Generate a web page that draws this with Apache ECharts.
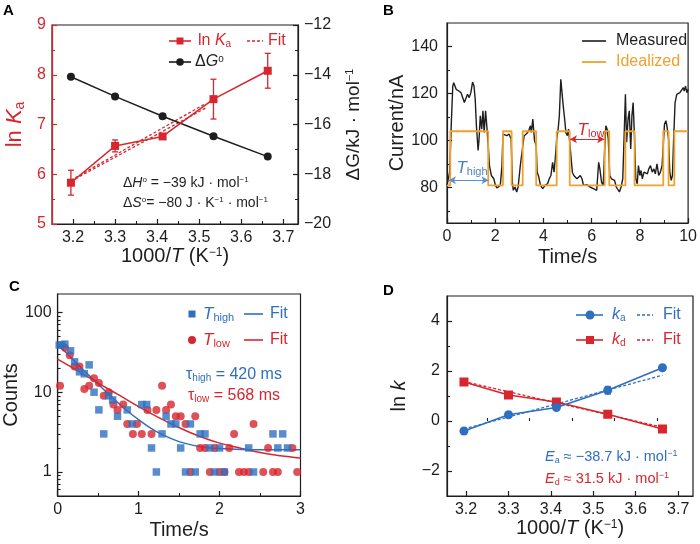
<!DOCTYPE html>
<html><head><meta charset="utf-8">
<script src="https://cdn.jsdelivr.net/npm/echarts@6/dist/echarts.min.js"></script>
<style>html,body{margin:0;padding:0;background:#fff}#c{width:700px;height:544px}</style>
</head><body><div id="c"></div>
<script>
// ---------- Panel A data ----------
const invT = [3.195, 3.300, 3.413, 3.534, 3.663];
const lnKa = [5.83, 6.57, 6.76, 7.51, 8.08];
const lnKaErr = [0.25, 0.12, 0.05, 0.40, 0.35];
const dG = [-14.08, -14.87, -15.67, -16.47, -17.29];
const fitAX = [3.195, 3.515];
const fitAY1 = [5.88, 7.42];
const fitAY2 = [5.86, 7.33];
const aXTicks = [3.2, 3.3, 3.4, 3.5, 3.6, 3.7];
const aXMinor = [3.25, 3.35, 3.45, 3.55, 3.65];
// ---------- Panel B data ----------
const measT = [0.00,0.11,0.18,0.24,0.28,0.38,0.49,0.58,0.65,0.72,0.79,0.85,0.92,0.99,1.06,1.12,1.17,1.22,1.29,1.33,1.38,1.44,1.49,1.54,1.60,1.65,1.71,1.76,1.84,1.94,2.01,2.07,2.14,2.21,2.28,2.32,2.38,2.48,2.57,2.66,2.71,2.75,2.82,2.89,2.95,3.04,3.12,3.20,3.29,3.39,3.46,3.50,3.56,3.63,3.70,3.74,3.79,3.88,3.97,4.07,4.17,4.24,4.31,4.38,4.44,4.49,4.55,4.61,4.66,4.72,4.77,4.82,4.88,4.93,4.99,5.04,5.09,5.15,5.20,5.26,5.33,5.39,5.46,5.53,5.60,5.66,5.80,5.93,6.07,6.21,6.29,6.34,6.41,6.48,6.54,6.59,6.64,6.69,6.75,6.82,6.88,6.95,7.02,7.09,7.15,7.22,7.29,7.36,7.40,7.45,7.51,7.56,7.62,7.67,7.72,7.78,7.83,7.89,7.94,8.00,8.05,8.10,8.17,8.24,8.31,8.37,8.44,8.51,8.58,8.64,8.71,8.78,8.85,8.92,8.97,9.02,9.08,9.13,9.19,9.24,9.30,9.35,9.40,9.46,9.53,9.59,9.66,9.73,9.80,9.84,9.89,9.95,10.0];
const measI = [81.0,86.6,107.7,123.2,124.6,121.8,121.1,120.4,118.3,116.2,116.9,119.7,118.3,120.4,124.9,123.2,117.6,106.3,95.8,100.7,110.6,104.9,112.7,103.5,112.7,106.3,97.9,89.4,85.2,83.8,81.0,79.9,79.6,81.0,89.4,102.8,102.1,102.1,102.8,100.7,82.4,78.9,80.3,78.2,80.3,89.4,95.8,102.1,102.8,104.2,106.3,103.5,109.2,100.0,97.9,86.6,85.2,81.0,79.6,81.0,81.7,83.8,85.2,90.8,86.6,92.3,100.7,104.9,110.6,126.1,120.4,114.8,109.2,103.5,102.1,104.9,99.3,92.3,86.6,85.2,85.9,83.8,83.1,85.2,83.8,81.0,81.3,80.3,79.6,78.9,90.8,88.0,82.4,81.0,96.5,106.3,104.9,100.7,85.2,83.8,83.8,83.1,80.3,81.0,78.2,80.3,83.8,106.3,119.7,99.3,109.2,112.7,96.5,110.6,116.2,100.7,83.8,81.7,89.4,85.2,87.3,83.8,86.6,87.3,85.9,88.0,89.4,86.6,88.0,85.9,90.1,85.2,86.6,89.4,97.9,107.0,108.5,105.6,100.7,86.6,83.1,85.2,100.7,116.2,119.7,119.0,120.4,119.7,122.5,121.1,123.2,120.4,121.8];
const idealT = [0,0.135,1.71,2.32,2.68,3.14,3.70,4.55,5.09,6.54,6.73,7.40,7.78,8.97,9.19,9.43,10];
const idealI = [81,104,81,104,81,104,81,104,81,104,81,104,81,104,81,104,104];
const arrowHigh = [0.08, 1.72, 83.2];
const arrowLow = [5.10, 6.52, 100.6];
const bYLabels = [80, 100, 120, 140];
const bYMinor = [70, 90, 110, 130];
// ---------- Panel C data ----------
const highT = [0.02,0.05,0.09,0.16,0.21,0.27,0.33,0.39,0.45,0.51,0.57,0.63,0.68,0.74,0.86,0.92,1.04,1.10,1.16,1.22,1.29,1.34,1.40,1.46,1.52,1.58,1.64,1.70,1.76,1.82,1.88,1.94,2.00,2.06,2.36,2.42,2.66,2.72,2.78,2.84];
const highN = [39,39,40,33,24,18,17,22,10,6,3,9,8,5,6,4,7,7,2,1,3,5,4,4,2,1,4,1,3,3,2,1,2,1,2,1,3,2,3,2];
const lowT = [0.03,0.09,0.15,0.21,0.27,0.33,0.39,0.45,0.51,0.57,0.63,0.69,0.74,0.81,0.86,0.93,0.98,1.04,1.11,1.16,1.22,1.29,1.34,1.40,1.46,1.52,1.58,1.64,1.70,1.76,1.82,1.88,1.94,2.00,2.06,2.12,2.18,2.24,2.30,2.36,2.42,2.54,2.60,2.66,2.72,2.90,2.96];
const lowN = [12,36,29,21,21,11,12,15,13,9,10,7,6,7,4,3,4,3,6,3,6,12,6,7,5,5,4,1,5,2,2,1,2,1,1,2,3,1,1,1,4,1,2,1,1,2,1];
const fitHighT = [0,0.125,0.25,0.375,0.5,0.625,0.75,0.875,1,1.125,1.25,1.5,1.75,2,2.5,3];
const fitHighN = [40,29.9,22.3,16.7,12.6,9.55,7.33,5.69,4.52,3.67,3.09,2.40,2.09,1.97,1.90,1.90];
const fitLowT = [0,0.25,0.5,0.75,1,1.25,1.5,1.75,2,2.25,2.5,2.75,3];
const fitLowN = [26,18.5,13,9.3,6.6,4.8,3.6,2.8,2.3,2.0,1.75,1.6,1.5];
const cYLabels = [1, 10, 100];
const cYMinor = [0.6,0.7,0.8,0.9,2,3,4,5,6,7,8,9,20,30,40,50,60,70,80,90];
// ---------- Panel D data ----------
const lnKa_d = [-0.40, 0.25, 0.54, 1.23, 2.13];
const lnKaErr_d = [0.05, 0.05, 0.05, 0.15, 0.08];
const lnKd = [1.56, 1.04, 0.76, 0.27, -0.32];
const lnKdErr = [0.05, 0.10, 0.05, 0.05, 0.05];
const fitDX = [3.195, 3.663];
const fitKaY = [-0.32, 1.83];
const fitKdY = [1.58, -0.25];
const dYLabels = [-2, 0, 2, 4];
const dYMinor = [-1, 1, 3];

const RED = '#d7262e', BLUE = '#2f6fbf', ORANGE = '#f0a02c', BLK = '#1e1e1e';
const FONT = 'Liberation Sans';
const minus = v => String(v).replace('-', '\u2212');
const pair = (xs, ys) => xs.map((x, i) => [x, ys[i]]);

function richSet(color, size) {
  return {
    i: {fontStyle: 'italic', fontSize: size, fontFamily: FONT, color},
    sub: {fontSize: Math.round(size * 0.62), fontFamily: FONT, color, verticalAlign: 'bottom', padding: [Math.round(size*0.45), 0, 0, 0]},
    sup: {fontSize: Math.round(size * 0.6), fontFamily: FONT, color, verticalAlign: 'top', padding: [0, 0, Math.round(size*0.4), 0]},
    n: {fontSize: size, fontFamily: FONT, color}
  };
}
function nameStyle(color, size) {
  return {color, fontSize: size, fontFamily: FONT, rich: richSet(color, size)};
}
function baseX(grid, min, max, color) {
  return {type: 'value', gridIndex: grid, min, max, position: 'bottom',
    axisLine: {show: true, onZero: false, lineStyle: {color: color || BLK, width: 1.2}},
    axisTick: {show: true, inside: true, length: 5, lineStyle: {color: color || BLK, width: 1.2}},
    axisLabel: {color: BLK, fontSize: 16, fontFamily: FONT, margin: 6},
    splitLine: {show: false}, minorSplitLine: {show: false}};
}
function baseY(grid, min, max, color, pos) {
  return {type: 'value', gridIndex: grid, min, max, position: pos || 'left',
    axisLine: {show: true, onZero: false, lineStyle: {color: color || BLK, width: 1.2}},
    axisTick: {show: true, inside: true, length: 5, lineStyle: {color: color || BLK, width: 1.2}},
    axisLabel: {color: color || BLK, fontSize: 16, fontFamily: FONT, margin: 6, formatter: minus},
    splitLine: {show: false}, minorSplitLine: {show: false}};
}
function minorAxis(base, vals) {
  return Object.assign(base, {
    axisLine: {show: false}, axisLabel: {show: false},
    axisTick: {show: true, inside: true, length: 3, customValues: vals, lineStyle: {color: BLK, width: 1.1}}
  });
}
function errBars(xi, yi, xs, ys, es, color, cap) {
  return {type: 'custom', xAxisIndex: xi, yAxisIndex: yi, z: 3, silent: true,
    data: xs.map((x, i) => [x, ys[i] - es[i], ys[i] + es[i]]),
    encode: {x: 0, y: [1, 2]},
    renderItem: (p, api) => {
      const a = api.coord([api.value(0), api.value(1)]);
      const b = api.coord([api.value(0), api.value(2)]);
      const s = {stroke: color, lineWidth: 1.3};
      return {type: 'group', children: [
        {type: 'line', shape: {x1: a[0], y1: a[1], x2: b[0], y2: b[1]}, style: s},
        {type: 'line', shape: {x1: a[0] - cap, y1: a[1], x2: a[0] + cap, y2: a[1]}, style: s},
        {type: 'line', shape: {x1: b[0] - cap, y1: b[1], x2: b[0] + cap, y2: b[1]}, style: s}]};
    }};
}
// graphic helpers (legend keys / annotations)
function gText(x, y, text, color, size, opts) {
  opts = opts || {};
  return {type: 'text', x, y, z: 100, style: Object.assign({text, fill: color, fontSize: size, fontFamily: FONT,
    align: opts.align || 'left', verticalAlign: 'middle', rich: richSet(color, size)}, opts.style || {})};
}
function gLine(x1, x2, y, color, dash, w) {
  return {type: 'line', z: 100, shape: {x1, y1: y, x2, y2: y}, style: {stroke: color, lineWidth: w || 1.6, lineDash: dash || null}};
}
function gSq(x, y, s, color) {
  return {type: 'rect', z: 101, shape: {x: x - s / 2, y: y - s / 2, width: s, height: s}, style: {fill: color}};
}
function gCirc(x, y, r, color) {
  return {type: 'circle', z: 101, shape: {cx: x, cy: y, r}, style: {fill: color}};
}

const option = {
  animation: false,
  backgroundColor: '#fff',
  grid: [
    {left: 52, top: 25, width: 246, height: 199, show: true, borderColor: BLK, borderWidth: 1.2, backgroundColor: 'transparent'},
    {left: 447, top: 23, width: 246, height: 200, show: true, borderColor: BLK, borderWidth: 1.2, backgroundColor: 'transparent'},
    {left: 55.5, top: 294, width: 245, height: 202, show: true, borderColor: BLK, borderWidth: 1.2, backgroundColor: 'transparent'},
    {left: 447, top: 296, width: 246, height: 200, show: true, borderColor: BLK, borderWidth: 1.2, backgroundColor: 'transparent'}
  ],
  xAxis: [
    Object.assign(baseX(0, 3.15, 3.735), {
      axisLabel: {color: BLK, fontSize: 16, fontFamily: FONT, margin: 6, customValues: aXTicks, formatter: v => v.toFixed(1)},
      axisTick: {show: true, inside: true, length: 5, customValues: aXTicks, lineStyle: {color: BLK, width: 1.2}},
      name: '1000/{i|T} (K{sup|\u22121})', nameLocation: 'middle', nameGap: 19, nameTextStyle: nameStyle(BLK, 20)}),
    minorAxis(baseX(0, 3.15, 3.735), aXMinor),
    Object.assign(baseX(1, 0, 10), {interval: 2, minorTick: {show: true, splitNumber: 2, length: 3, lineStyle: {color: BLK}},
      name: 'Time/s', nameLocation: 'middle', nameGap: 24, nameTextStyle: nameStyle(BLK, 20)}),
    Object.assign(baseX(2, 0, 3), {interval: 1, minorTick: {show: true, splitNumber: 2, length: 3, lineStyle: {color: BLK}},
      name: 'Time/s', nameLocation: 'middle', nameGap: 24, nameTextStyle: nameStyle(BLK, 20)}),
    Object.assign(baseX(3, 3.155, 3.735), {
      axisLabel: {color: BLK, fontSize: 16, fontFamily: FONT, margin: 6, customValues: aXTicks, formatter: v => v.toFixed(1)},
      axisTick: {show: true, inside: true, length: 5, customValues: aXTicks, lineStyle: {color: BLK, width: 1.2}},
      name: '1000/{i|T} (K{sup|\u22121})', nameLocation: 'middle', nameGap: 19, nameTextStyle: nameStyle(BLK, 20)}),
    minorAxis(baseX(3, 3.155, 3.735), aXMinor)
  ],
  yAxis: [
    Object.assign(baseY(0, 5, 9, RED), {interval: 1, minorTick: {show: true, splitNumber: 2, length: 3, lineStyle: {color: RED}},
      name: 'ln {i|K}{sub|a}', nameLocation: 'middle', nameGap: 25, nameTextStyle: nameStyle(RED, 22)}),
    Object.assign(baseY(0, -20, -12, BLK, 'right'), {interval: 2, minorTick: {show: true, splitNumber: 2, length: 3, lineStyle: {color: BLK}},
      name: '\u0394G/kJ \u00b7 mol{sup|\u22121}', nameLocation: 'middle', nameGap: 46, nameTextStyle: nameStyle(BLK, 19)}),
    Object.assign(baseY(1, 65, 150), {
      axisLabel: {color: BLK, fontSize: 16, fontFamily: FONT, margin: 9, customValues: bYLabels},
      axisTick: {show: true, inside: true, length: 5, customValues: bYLabels, lineStyle: {color: BLK, width: 1.2}},
      name: 'Current/nA', nameLocation: 'middle', nameGap: 36, nameTextStyle: nameStyle(BLK, 20)}),
    minorAxis(baseY(1, 65, 150), bYMinor),
    Object.assign(baseY(2, 0.5, 170), {type: 'log', logBase: 10,
      axisLabel: {color: BLK, fontSize: 16, fontFamily: FONT, margin: 6, customValues: cYLabels},
      axisTick: {show: true, inside: true, length: 5, customValues: cYLabels, lineStyle: {color: BLK, width: 1.2}},
      name: 'Counts', nameLocation: 'middle', nameGap: 24, nameTextStyle: nameStyle(BLK, 20)}),
    Object.assign(minorAxis(baseY(2, 0.5, 170), cYMinor), {type: 'log', logBase: 10}),
    Object.assign(baseY(3, -3, 5), {
      axisLabel: {color: BLK, fontSize: 16, fontFamily: FONT, margin: 7, customValues: dYLabels, formatter: minus},
      axisTick: {show: true, inside: true, length: 5, customValues: dYLabels, lineStyle: {color: BLK, width: 1.2}},
      name: 'ln {i|k}', nameLocation: 'middle', nameGap: 38, nameTextStyle: nameStyle(BLK, 20)}),
    minorAxis(baseY(3, -3, 5), dYMinor)
  ],
  series: [
    // ---- A ----
    {type: 'line', xAxisIndex: 0, yAxisIndex: 0, data: pair(fitAX, fitAY1), symbol: 'none', lineStyle: {color: RED, width: 1.3, type: [3, 2]}, z: 2},
    {type: 'line', xAxisIndex: 0, yAxisIndex: 0, data: pair(fitAX, fitAY2), symbol: 'none', lineStyle: {color: RED, width: 1.3, type: [3, 2]}, z: 2},
    {type: 'line', xAxisIndex: 0, yAxisIndex: 1, data: pair(invT, dG), symbol: 'circle', symbolSize: 8,
      itemStyle: {color: BLK}, lineStyle: {color: BLK, width: 1.5}, z: 3},
    errBars(0, 0, invT, lnKa, lnKaErr, RED, 3),
    {type: 'line', xAxisIndex: 0, yAxisIndex: 0, data: pair(invT, lnKa), symbol: 'rect', symbolSize: 8,
      itemStyle: {color: RED}, lineStyle: {color: RED, width: 1.5}, z: 4},
    // ---- B ----
    {type: 'line', xAxisIndex: 2, yAxisIndex: 2, data: pair(measT, measI), symbol: 'none',
      lineStyle: {color: BLK, width: 1.4}, z: 2},
    {type: 'line', xAxisIndex: 2, yAxisIndex: 2, data: pair(idealT, idealI), symbol: 'none', step: 'end',
      lineStyle: {color: ORANGE, width: 1.8}, z: 3,
      markLine: {silent: true, symbol: ['arrow', 'arrow'], symbolSize: [6, 7], label: {show: false},
        data: [
          [{coord: [arrowHigh[0], arrowHigh[2]], lineStyle: {color: '#5b8fd0', width: 1, type: 'solid'}, itemStyle: {color: '#5b8fd0'}},
           {coord: [arrowHigh[1], arrowHigh[2]]}],
          [{coord: [arrowLow[0], arrowLow[2]], lineStyle: {color: RED, width: 1, type: 'solid'}, itemStyle: {color: RED}},
           {coord: [arrowLow[1], arrowLow[2]]}]
        ]}},
    // ---- C ----
    {type: 'line', xAxisIndex: 3, yAxisIndex: 4, data: pair(fitLowT, fitLowN), symbol: 'none', smooth: 0.4,
      lineStyle: {color: RED, width: 1.5}, z: 2},
    {type: 'line', xAxisIndex: 3, yAxisIndex: 4, data: pair(fitHighT, fitHighN), symbol: 'none', smooth: 0.3,
      lineStyle: {color: BLUE, width: 1.5}, z: 2},
    {type: 'scatter', xAxisIndex: 3, yAxisIndex: 4, data: pair(lowT, lowN), symbol: 'circle', symbolSize: 8,
      itemStyle: {color: RED}, z: 3},
    {type: 'scatter', xAxisIndex: 3, yAxisIndex: 4, data: pair(highT, highN), symbol: 'rect', symbolSize: 7.5,
      itemStyle: {color: BLUE}, z: 4},
    // ---- D ----
    {type: 'line', xAxisIndex: 4, yAxisIndex: 6, data: pair(fitDX, fitKaY), symbol: 'none', lineStyle: {color: BLUE, width: 1.3, type: [3, 2]}, z: 2},
    {type: 'line', xAxisIndex: 4, yAxisIndex: 6, data: pair(fitDX, fitKdY), symbol: 'none', lineStyle: {color: RED, width: 1.3, type: [3, 2]}, z: 2},
    errBars(4, 6, invT, lnKa_d, lnKaErr_d, BLUE, 3),
    errBars(4, 6, invT, lnKd, lnKdErr, RED, 3),
    {type: 'line', xAxisIndex: 4, yAxisIndex: 6, data: pair(invT, lnKd), symbol: 'rect', symbolSize: 9,
      itemStyle: {color: RED}, lineStyle: {color: RED, width: 1.6}, z: 4},
    {type: 'line', xAxisIndex: 4, yAxisIndex: 6, data: pair(invT, lnKa_d), symbol: 'circle', symbolSize: 9,
      itemStyle: {color: BLUE}, lineStyle: {color: BLUE, width: 1.6}, z: 5}
  ],
  graphic: [
    // panel letters
    {type: 'text', x: 3, y: 3, z: 100, style: {text: 'A', fontSize: 15, fontWeight: 'bold', fontFamily: FONT, fill: '#000'}},
    {type: 'text', x: 383, y: 3, z: 100, style: {text: 'B', fontSize: 15, fontWeight: 'bold', fontFamily: FONT, fill: '#000'}},
    {type: 'text', x: 9, y: 279, z: 100, style: {text: 'C', fontSize: 15, fontWeight: 'bold', fontFamily: FONT, fill: '#000'}},
    {type: 'text', x: 383, y: 283, z: 100, style: {text: 'D', fontSize: 15, fontWeight: 'bold', fontFamily: FONT, fill: '#000'}},
    // A legend
    gLine(169, 191, 41, RED), gSq(180, 41, 7, RED), gText(198, 41, 'ln {i|K}{sub|a}', RED, 16),
    gLine(247, 263, 41, RED, [3, 2], 1.4), gText(268, 41, 'Fit', RED, 16),
    gLine(169, 191, 62, BLK), gCirc(180, 62, 3.8, BLK), gText(195, 62, '\u0394{i|G}{sup|o}', BLK, 16),
    gText(123, 183, '\u0394{i|H}{sup|o} = \u221239 kJ \u00b7 mol{sup|\u22121}', BLK, 14),
    gText(123, 203, '\u0394{i|S}{sup|o}= \u221280 J \u00b7 K{sup|\u22121} \u00b7 mol{sup|\u22121}', BLK, 14),
    // B legend
    gLine(582, 606, 41, BLK), gText(616, 41, 'Measured', BLK, 16),
    gLine(582, 606, 62, ORANGE, null, 1.8), gText(616, 62, 'Idealized', ORANGE, 16),
    gText(472, 168, '{i|T}{sub|high}', '#4a82c8', 17, {align: 'center'}),
    gText(591, 130, '{i|T}{sub|low}', RED, 17, {align: 'center'}),
    // C legend
    gSq(192, 314, 7, BLUE), gText(203, 314, '{i|T}{sub|high}', BLUE, 17),
    gLine(244, 263, 314, BLUE), gText(270, 314, 'Fit', BLUE, 16),
    gCirc(192, 340, 4, RED), gText(203, 340, '{i|T}{sub|low}', RED, 17),
    gLine(244, 263, 340, RED), gText(270, 340, 'Fit', RED, 16),
    gText(186, 375, '\u03c4{sub|high} = 420 ms', BLUE, 16),
    gText(188, 396, '\u03c4{sub|low} = 568 ms', RED, 16),
    // D legend
    gLine(576, 603, 315, BLUE), gCirc(590, 315, 4.5, BLUE), gText(612, 315, '{i|k}{sub|a}', BLUE, 16),
    gLine(637, 653, 315, BLUE, [3, 2], 1.4), gText(663, 315, 'Fit', BLUE, 16),
    gLine(576, 603, 340, RED), gSq(590, 340, 8, RED), gText(612, 340, '{i|k}{sub|d}', RED, 16),
    gLine(637, 653, 340, RED, [3, 2], 1.4), gText(663, 340, 'Fit', RED, 16),
    gText(545, 457, '{i|E}{sub|a} \u2248 \u221238.7 kJ \u00b7 mol{sup|\u22121}', BLUE, 14.5),
    gText(545, 479, '{i|E}{sub|d} \u2248 31.5 kJ \u00b7 mol{sup|\u22121}', RED, 14.5)
  ]
};
const chart = echarts.init(document.getElementById('c'), null, {renderer: 'canvas'});
chart.setOption(option);
</script>
</body></html>
